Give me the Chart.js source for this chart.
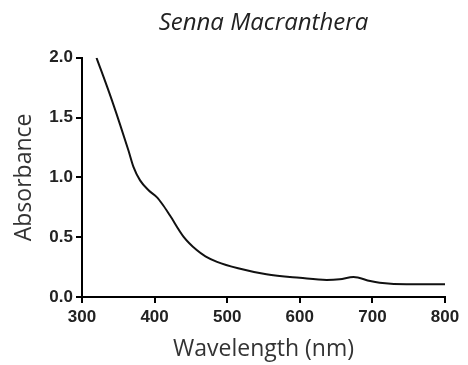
<!DOCTYPE html>
<html>
<head>
<meta charset="utf-8">
<script src="https://cdn.jsdelivr.net/npm/chart.js@4"></script>
<style>
  html, body { margin: 0; padding: 0; background: #fff; }
  #chart { display: block; }
</style>
</head>
<body>
<canvas id="chart" width="468" height="365"></canvas>
<script>
// absorbance spectrum
const wavelengths = [320, 338, 352, 364, 371, 380, 392, 403, 412, 421, 440, 458, 470, 486, 515, 554, 600, 637, 655, 674, 697, 710, 747, 800];
const absorbance = [2.0, 1.7, 1.45, 1.225, 1.086, 0.975, 0.89, 0.835, 0.765, 0.683, 0.503, 0.392, 0.34, 0.294, 0.24, 0.19, 0.16, 0.142, 0.148, 0.167, 0.133, 0.12, 0.106, 0.106];
const xTicks = [300, 400, 500, 600, 700, 800];
const yTicks = [0.0, 0.5, 1.0, 1.5, 2.0];

const tickFont = { family: "'Liberation Sans', Arial", size: 17, weight: "bold" };
const titleFont = { family: "'Open Sans', 'Noto Sans'", size: 23, weight: "normal" };

const ctx = document.getElementById("chart").getContext("2d");
new Chart(ctx, {
  type: "line",
  data: {
    datasets: [
      {
        label: "Senna Macranthera",
        data: wavelengths.map((w, i) => ({ x: w, y: absorbance[i] })),
        borderColor: "#111",
        borderWidth: 2,
        pointRadius: 0,
        cubicInterpolationMode: "monotone",
        fill: false,
      },
    ],
  },
  options: {
    responsive: false,
    animation: false,
    layout: { padding: { left: 0, right: 23, top: 0, bottom: 0 } },
    plugins: {
      legend: { display: false },
      tooltip: { enabled: false },
      title: {
        display: true,
        fullSize: false, // center over the plot area, not the whole canvas
        text: "Senna Macranthera",
        color: "#222",
        font: { family: titleFont.family, size: 24, style: "italic" , weight: "normal" },
        padding: { top: 9, bottom: 20 },
      },
    },
    scales: {
      x: {
        type: "linear",
        min: 300,
        max: 800,
        afterBuildTicks: (scale) => {
          scale.ticks = xTicks.map((v) => ({ value: v }));
        },
        afterFit: (scale) => {
          scale.height = 68;
        },
        border: { color: "#000", width: 2 },
        grid: { drawOnChartArea: false, drawTicks: true, tickLength: 6, color: "#000", lineWidth: 2 },
        ticks: { color: "#222", font: tickFont, padding: 4, maxRotation: 0 },
        title: {
          display: true,
          text: "Wavelength (nm)",
          color: "#333",
          font: titleFont,
          padding: { top: 2, bottom: 2 },
        },
      },
      y: {
        min: 0,
        max: 2,
        afterBuildTicks: (scale) => {
          scale.ticks = yTicks.map((v) => ({ value: v }));
        },
        afterFit: (scale) => {
          scale.width = 82;
        },
        border: { color: "#000", width: 2 },
        grid: { drawOnChartArea: false, drawTicks: true, tickLength: 6, color: "#000", lineWidth: 2 },
        ticks: {
          color: "#222",
          font: tickFont,
          padding: 3,
          callback: (value) => Number(value).toFixed(1),
        },
        title: {
          display: true,
          text: "Absorbance",
          color: "#333",
          font: titleFont,
          padding: { top: 11, bottom: 4 },
        },
      },
    },
  },
});
</script>
</body>
</html>
